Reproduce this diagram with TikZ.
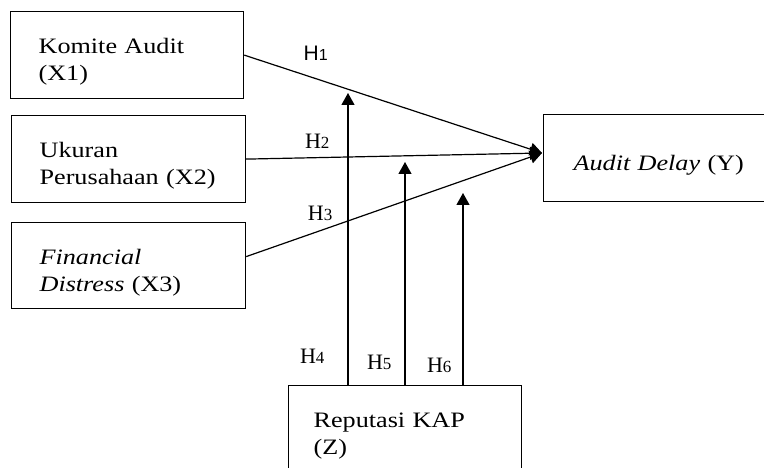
\documentclass[tikz,border=0pt]{standalone}
\usepackage{fontspec}
\setmainfont{Liberation Serif}[FakeStretch=1.19]
\newfontfamily\hypserif{Liberation Serif}
\newfontfamily\hypsans{Liberation Sans}
\usepackage{tikz}
\usetikzlibrary{arrows.meta,positioning}

\newcommand{\hyp}[1]{H{\fontsize{17}{17}\selectfont #1}}

\begin{document}
\begin{tikzpicture}[x=1pt, y=-1pt, ->, >={Triangle[length=12pt,width=13pt]}, line width=1.2pt,
  var/.style={draw, rectangle, anchor=north west, inner xsep=28pt, inner ysep=0pt, align=left, text width=178pt, minimum height=87pt, font=\fontsize{22}{27}\selectfont, execute at begin node={\rule{0pt}{29pt}}},
  hyp/.style={inner sep=0pt, font=\hypserif\fontsize{22}{24}\selectfont}]
\clip (0,0) rectangle (764,468);

\node [var, text width=177pt] (x1) at (10,11) {Komite Audit\\(X1)};
\node [var] (x2) at (11,115) {Ukuran\\Perusahaan (X2)};
\node [var, minimum height=86pt] (x3) at (11,222) {\textit{Financial}\\\textit{Distress} (X3)};
\node [var, text width=200pt, inner xsep=30pt] (y) at (543,114) {\textit{Audit Delay} (Y)};
\node [var, text width=183pt, inner xsep=25pt] (z) at (288,385) {Reputasi KAP\\(Z)};

\coordinate (meet) at (542,153);
\coordinate (m1) at (348,93);
\coordinate (m2) at (405,162);
\coordinate (m3) at (463,193);

\path
(x1.east) edge node [hyp, font=\hypsans\fontsize{21}{23}\selectfont, pos=0.24, above=17pt] (h1) {H{\fontsize{16}{16}\selectfont 1}} (meet)
(x2.east) edge node [hyp, pos=0.24, above=9pt] (h2) {\hyp{2}} (meet)
([yshift=9pt]x3.east) edge node [hyp, pos=0.25, above=9pt] (h3) {\hyp{3}} (meet)

(m1 |- z.north) edge node [hyp, pos=0.1, left=23pt] (h4) {\hyp{4}} (m1)
(m2 |- z.north) edge node [hyp, pos=0.1, left=13pt] (h5) {\hyp{5}} (m2)
(m3 |- z.north) edge node [hyp, pos=0.1, left=11pt] (h6) {\hyp{6}} (m3);
\end{tikzpicture}
\end{document}
